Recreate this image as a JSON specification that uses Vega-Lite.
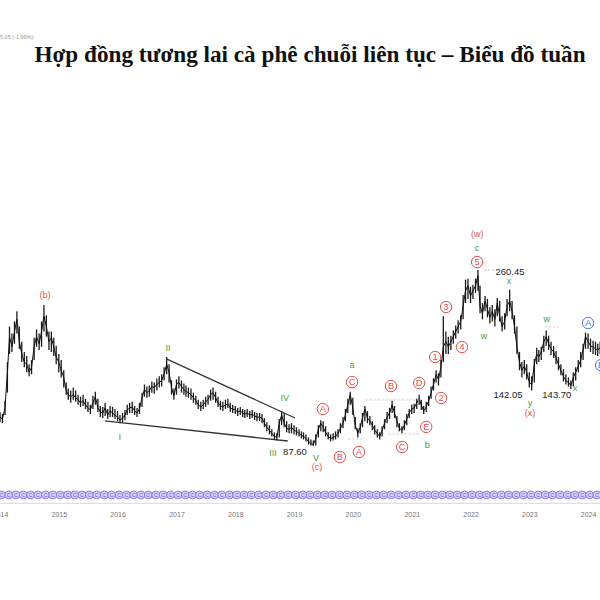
{
  "$schema": "https://vega.github.io/schema/vega-lite/v6.json",
  "width": 600,
  "height": 418,
  "autosize": {"type": "none"},
  "padding": {"left": 0, "top": 85, "right": 0, "bottom": 97},
  "background": "white",
  "config": {"view": {"stroke": null}},
  "title": {
    "text": "Hợp đồng tương lai cà phê chuỗi liên tục – Biểu đồ tuần",
    "font": "Liberation Serif",
    "fontSize": 23.2,
    "fontWeight": "bold",
    "color": "#111111",
    "anchor": "middle",
    "frame": "group",
    "dx": 10,
    "offset": -50,
    "baseline": "alphabetic"
  },
  "datasets": {
    "ohlc": [
      {"d":"2014-01-01","c":116,"h":121,"l":111},{"d":"2014-01-16","c":114,"h":119,"l":110},
      {"d":"2014-02-01","c":125,"h":132,"l":118},{"d":"2014-02-16","c":160,"h":170,"l":140},
      {"d":"2014-03-01","c":195,"h":205,"l":178},{"d":"2014-03-16","c":185,"h":198,"l":180},
      {"d":"2014-04-01","c":200,"h":210,"l":188},{"d":"2014-04-16","c":212,"h":220,"l":198},
      {"d":"2014-05-01","c":190,"h":205,"l":183},{"d":"2014-05-16","c":178,"h":190,"l":170},
      {"d":"2014-06-01","c":170,"h":180,"l":165},{"d":"2014-06-16","c":168,"h":176,"l":160},
      {"d":"2014-07-01","c":160,"h":168,"l":156},{"d":"2014-07-16","c":165,"h":172,"l":158},
      {"d":"2014-08-01","c":185,"h":194,"l":172},{"d":"2014-08-16","c":195,"h":202,"l":185},
      {"d":"2014-09-01","c":188,"h":198,"l":182},{"d":"2014-09-16","c":200,"h":210,"l":185},
      {"d":"2014-10-01","c":215,"h":226,"l":200},{"d":"2014-10-16","c":205,"h":216,"l":195},
      {"d":"2014-11-01","c":190,"h":200,"l":182},{"d":"2014-11-16","c":194,"h":200,"l":180},
      {"d":"2014-12-01","c":185,"h":194,"l":176},{"d":"2014-12-16","c":175,"h":186,"l":168},
      {"d":"2015-01-01","c":170,"h":178,"l":160},{"d":"2015-01-16","c":162,"h":172,"l":155},
      {"d":"2015-02-01","c":155,"h":162,"l":145},{"d":"2015-02-16","c":142,"h":150,"l":138},
      {"d":"2015-03-01","c":138,"h":144,"l":133},{"d":"2015-03-16","c":136,"h":142,"l":130},
      {"d":"2015-04-01","c":138,"h":145,"l":133},{"d":"2015-04-16","c":135,"h":142,"l":131},
      {"d":"2015-05-01","c":133,"h":138,"l":128},{"d":"2015-05-16","c":130,"h":136,"l":126},
      {"d":"2015-06-01","c":132,"h":138,"l":127},{"d":"2015-06-16","c":128,"h":134,"l":124},
      {"d":"2015-07-01","c":125,"h":131,"l":121},{"d":"2015-07-16","c":123,"h":128,"l":119},
      {"d":"2015-08-01","c":130,"h":137,"l":124},{"d":"2015-08-16","c":136,"h":141,"l":128},
      {"d":"2015-09-01","c":125,"h":134,"l":121},{"d":"2015-09-16","c":121,"h":127,"l":116},
      {"d":"2015-10-01","c":120,"h":126,"l":115},{"d":"2015-10-16","c":125,"h":130,"l":117},
      {"d":"2015-11-01","c":118,"h":124,"l":114},{"d":"2015-11-16","c":122,"h":127,"l":116},
      {"d":"2015-12-01","c":120,"h":126,"l":116},{"d":"2015-12-16","c":118,"h":124,"l":114},
      {"d":"2016-01-01","c":116,"h":122,"l":112},{"d":"2016-01-16","c":113,"h":118,"l":110},
      {"d":"2016-02-01","c":115,"h":120,"l":111},{"d":"2016-02-16","c":118,"h":123,"l":113},
      {"d":"2016-03-01","c":123,"h":128,"l":118},{"d":"2016-03-16","c":125,"h":130,"l":120},
      {"d":"2016-04-01","c":126,"h":131,"l":120},{"d":"2016-04-16","c":122,"h":127,"l":118},
      {"d":"2016-05-01","c":120,"h":125,"l":116},{"d":"2016-05-16","c":124,"h":130,"l":119},
      {"d":"2016-06-01","c":135,"h":140,"l":126},{"d":"2016-06-16","c":143,"h":148,"l":136},
      {"d":"2016-07-01","c":140,"h":146,"l":135},{"d":"2016-07-16","c":142,"h":147,"l":136},
      {"d":"2016-08-01","c":146,"h":151,"l":140},{"d":"2016-08-16","c":145,"h":150,"l":139},
      {"d":"2016-09-01","c":148,"h":154,"l":142},{"d":"2016-09-16","c":150,"h":156,"l":145},
      {"d":"2016-10-01","c":152,"h":158,"l":146},{"d":"2016-10-16","c":158,"h":165,"l":152},
      {"d":"2016-11-01","c":168,"h":175,"l":158},{"d":"2016-11-16","c":160,"h":168,"l":150},
      {"d":"2016-12-01","c":145,"h":152,"l":138},{"d":"2016-12-16","c":137,"h":144,"l":133},
      {"d":"2017-01-01","c":148,"h":153,"l":138},{"d":"2017-01-16","c":150,"h":156,"l":144},
      {"d":"2017-02-01","c":146,"h":152,"l":140},{"d":"2017-02-16","c":143,"h":149,"l":138},
      {"d":"2017-03-01","c":141,"h":147,"l":136},{"d":"2017-03-16","c":140,"h":145,"l":135},
      {"d":"2017-04-01","c":138,"h":144,"l":133},{"d":"2017-04-16","c":135,"h":140,"l":130},
      {"d":"2017-05-01","c":132,"h":137,"l":128},{"d":"2017-05-16","c":128,"h":133,"l":124},
      {"d":"2017-06-01","c":126,"h":131,"l":122},{"d":"2017-06-16","c":128,"h":133,"l":124},
      {"d":"2017-07-01","c":131,"h":136,"l":126},{"d":"2017-07-16","c":133,"h":138,"l":128},
      {"d":"2017-08-01","c":138,"h":143,"l":132},{"d":"2017-08-16","c":140,"h":145,"l":133},
      {"d":"2017-09-01","c":135,"h":141,"l":130},{"d":"2017-09-16","c":130,"h":136,"l":126},
      {"d":"2017-10-01","c":127,"h":132,"l":123},{"d":"2017-10-16","c":126,"h":131,"l":122},
      {"d":"2017-11-01","c":128,"h":133,"l":124},{"d":"2017-11-16","c":129,"h":134,"l":125},
      {"d":"2017-12-01","c":125,"h":130,"l":121},{"d":"2017-12-16","c":124,"h":128,"l":120},
      {"d":"2018-01-01","c":123,"h":127,"l":119},{"d":"2018-01-16","c":121,"h":125,"l":117},
      {"d":"2018-02-01","c":122,"h":126,"l":118},{"d":"2018-02-16","c":120,"h":124,"l":116},
      {"d":"2018-03-01","c":119,"h":123,"l":115},{"d":"2018-03-16","c":120,"h":124,"l":116},
      {"d":"2018-04-01","c":118,"h":122,"l":114},{"d":"2018-04-16","c":119,"h":123,"l":115},
      {"d":"2018-05-01","c":117,"h":121,"l":113},{"d":"2018-05-16","c":116,"h":120,"l":112},
      {"d":"2018-06-01","c":116,"h":120,"l":112},{"d":"2018-06-16","c":115,"h":119,"l":110},
      {"d":"2018-07-01","c":110,"h":115,"l":106},{"d":"2018-07-16","c":106,"h":111,"l":102},
      {"d":"2018-08-01","c":103,"h":108,"l":99},{"d":"2018-08-16","c":100,"h":104,"l":97},
      {"d":"2018-09-01","c":97,"h":101,"l":94},{"d":"2018-09-16","c":96,"h":100,"l":93},
      {"d":"2018-10-01","c":110,"h":114,"l":96},{"d":"2018-10-16","c":118,"h":122,"l":108},
      {"d":"2018-11-01","c":110,"h":120,"l":106},{"d":"2018-11-16","c":105,"h":112,"l":101},
      {"d":"2018-12-01","c":104,"h":109,"l":100},{"d":"2018-12-16","c":106,"h":110,"l":100},
      {"d":"2019-01-01","c":103,"h":108,"l":99},{"d":"2019-01-16","c":102,"h":106,"l":98},
      {"d":"2019-02-01","c":100,"h":104,"l":97},{"d":"2019-02-16","c":98,"h":102,"l":95},
      {"d":"2019-03-01","c":97,"h":101,"l":94},{"d":"2019-03-16","c":95,"h":99,"l":92},
      {"d":"2019-04-01","c":92,"h":96,"l":89},{"d":"2019-04-16","c":90,"h":94,"l":88},
      {"d":"2019-05-01","c":89,"h":93,"l":87.6},{"d":"2019-05-16","c":95,"h":99,"l":88},
      {"d":"2019-06-01","c":104,"h":108,"l":96},{"d":"2019-06-16","c":110,"h":113,"l":102},
      {"d":"2019-07-01","c":106,"h":112,"l":101},{"d":"2019-07-16","c":101,"h":107,"l":97},
      {"d":"2019-08-01","c":97,"h":101,"l":94},{"d":"2019-08-16","c":95,"h":99,"l":92},
      {"d":"2019-09-01","c":96,"h":100,"l":93},{"d":"2019-09-16","c":97,"h":102,"l":94},
      {"d":"2019-10-01","c":100,"h":104,"l":96},{"d":"2019-10-16","c":105,"h":110,"l":100},
      {"d":"2019-11-01","c":110,"h":116,"l":105},{"d":"2019-11-16","c":118,"h":124,"l":112},
      {"d":"2019-12-01","c":128,"h":134,"l":120},{"d":"2019-12-16","c":138,"h":141,"l":128},
      {"d":"2020-01-01","c":125,"h":135,"l":118},{"d":"2020-01-16","c":108,"h":116,"l":104},
      {"d":"2020-02-01","c":100,"h":105,"l":96},{"d":"2020-02-16","c":106,"h":110,"l":100},
      {"d":"2020-03-01","c":115,"h":120,"l":106},{"d":"2020-03-16","c":124,"h":127,"l":112},
      {"d":"2020-04-01","c":115,"h":122,"l":110},{"d":"2020-04-16","c":112,"h":117,"l":108},
      {"d":"2020-05-01","c":108,"h":112,"l":103},{"d":"2020-05-16","c":103,"h":108,"l":99},
      {"d":"2020-06-01","c":100,"h":104,"l":96},{"d":"2020-06-16","c":97,"h":101,"l":94},
      {"d":"2020-07-01","c":103,"h":107,"l":97},{"d":"2020-07-16","c":110,"h":114,"l":104},
      {"d":"2020-08-01","c":116,"h":121,"l":110},{"d":"2020-08-16","c":120,"h":125,"l":114},
      {"d":"2020-09-01","c":128,"h":132,"l":120},{"d":"2020-09-16","c":120,"h":127,"l":115},
      {"d":"2020-10-01","c":112,"h":117,"l":106},{"d":"2020-10-16","c":105,"h":110,"l":102},
      {"d":"2020-11-01","c":103,"h":107,"l":100},{"d":"2020-11-16","c":108,"h":113,"l":103},
      {"d":"2020-12-01","c":114,"h":119,"l":108},{"d":"2020-12-16","c":120,"h":124,"l":115},
      {"d":"2021-01-01","c":124,"h":128,"l":119},{"d":"2021-01-16","c":125,"h":129,"l":120},
      {"d":"2021-02-01","c":130,"h":134,"l":124},{"d":"2021-02-16","c":134,"h":138,"l":128},
      {"d":"2021-03-01","c":128,"h":133,"l":123},{"d":"2021-03-16","c":122,"h":127,"l":119},
      {"d":"2021-04-01","c":126,"h":131,"l":121},{"d":"2021-04-16","c":132,"h":137,"l":127},
      {"d":"2021-05-01","c":140,"h":146,"l":134},{"d":"2021-05-16","c":148,"h":154,"l":142},
      {"d":"2021-06-01","c":158,"h":162,"l":150},{"d":"2021-06-16","c":153,"h":159,"l":147},
      {"d":"2021-07-01","c":165,"h":172,"l":155},{"d":"2021-07-16","c":185,"h":215,"l":170},
      {"d":"2021-08-01","c":190,"h":200,"l":178},{"d":"2021-08-16","c":185,"h":195,"l":178},
      {"d":"2021-09-01","c":190,"h":196,"l":182},{"d":"2021-09-16","c":195,"h":201,"l":188},
      {"d":"2021-10-01","c":200,"h":206,"l":193},{"d":"2021-10-16","c":205,"h":211,"l":198},
      {"d":"2021-11-01","c":210,"h":216,"l":202},{"d":"2021-11-16","c":225,"h":236,"l":212},
      {"d":"2021-12-01","c":240,"h":251,"l":228},{"d":"2021-12-16","c":245,"h":252,"l":232},
      {"d":"2022-01-01","c":235,"h":244,"l":228},{"d":"2022-01-16","c":240,"h":246,"l":232},
      {"d":"2022-02-01","c":245,"h":252,"l":238},{"d":"2022-02-16","c":255,"h":260.45,"l":240},
      {"d":"2022-03-01","c":225,"h":245,"l":218},{"d":"2022-03-16","c":218,"h":228,"l":212},
      {"d":"2022-04-01","c":230,"h":235,"l":220},{"d":"2022-04-16","c":222,"h":232,"l":214},
      {"d":"2022-05-01","c":214,"h":224,"l":208},{"d":"2022-05-16","c":220,"h":226,"l":210},
      {"d":"2022-06-01","c":212,"h":222,"l":205},{"d":"2022-06-16","c":228,"h":233,"l":215},
      {"d":"2022-07-01","c":215,"h":230,"l":210},{"d":"2022-07-16","c":205,"h":215,"l":200},
      {"d":"2022-08-01","c":210,"h":218,"l":202},{"d":"2022-08-16","c":225,"h":232,"l":215},
      {"d":"2022-09-01","c":230,"h":241,"l":220},{"d":"2022-09-16","c":220,"h":230,"l":212},
      {"d":"2022-10-01","c":205,"h":216,"l":198},{"d":"2022-10-16","c":185,"h":205,"l":178},
      {"d":"2022-11-01","c":170,"h":180,"l":162},{"d":"2022-11-16","c":162,"h":170,"l":155},
      {"d":"2022-12-01","c":166,"h":172,"l":158},{"d":"2022-12-16","c":160,"h":168,"l":153},
      {"d":"2023-01-01","c":150,"h":160,"l":145},{"d":"2023-01-16","c":148,"h":156,"l":142.05},
      {"d":"2023-02-01","c":168,"h":173,"l":150},{"d":"2023-02-16","c":178,"h":184,"l":168},
      {"d":"2023-03-01","c":175,"h":182,"l":170},{"d":"2023-03-16","c":180,"h":185,"l":172},
      {"d":"2023-04-01","c":190,"h":196,"l":180},{"d":"2023-04-16","c":195,"h":201,"l":186},
      {"d":"2023-05-01","c":188,"h":196,"l":182},{"d":"2023-05-16","c":183,"h":190,"l":177},
      {"d":"2023-06-01","c":180,"h":186,"l":174},{"d":"2023-06-16","c":174,"h":181,"l":168},
      {"d":"2023-07-01","c":168,"h":175,"l":162},{"d":"2023-07-16","c":162,"h":168,"l":157},
      {"d":"2023-08-01","c":156,"h":163,"l":151},{"d":"2023-08-16","c":152,"h":158,"l":148},
      {"d":"2023-09-01","c":150,"h":155,"l":146},{"d":"2023-09-16","c":147,"h":152,"l":143.7},
      {"d":"2023-10-01","c":155,"h":160,"l":146},{"d":"2023-10-16","c":160,"h":165,"l":152},
      {"d":"2023-11-01","c":166,"h":172,"l":160},{"d":"2023-11-16","c":172,"h":180,"l":165},
      {"d":"2023-12-01","c":182,"h":188,"l":172},{"d":"2023-12-16","c":195,"h":199,"l":183},
      {"d":"2024-01-01","c":190,"h":198,"l":183},{"d":"2024-01-16","c":186,"h":193,"l":180},
      {"d":"2024-02-01","c":185,"h":191,"l":178},{"d":"2024-02-16","c":183,"h":190,"l":177},
      {"d":"2024-03-01","c":182,"h":188,"l":176},{"d":"2024-03-16","c":184,"h":190,"l":178}
    ],
    "labels": [
      {"d":"2014-10-07","p":235.9,"t":"(b)","k":"r"},
      {"d":"2016-01-15","p":96.4,"t":"I","k":"g"},
      {"d":"2016-11-09","p":183.8,"t":"II","k":"g"},
      {"d":"2018-08-23","p":80.7,"t":"III","k":"g"},
      {"d":"2018-11-05","p":134.7,"t":"IV","k":"g"},
      {"d":"2019-05-17","p":75.8,"t":"V","k":"g"},
      {"d":"2019-01-07","p":81.7,"t":"87.60","k":"n"},
      {"d":"2019-05-23","p":67.0,"t":"(c)","k":"r"},
      {"d":"2019-06-29","p":123.9,"t":"A","k":"rc"},
      {"d":"2019-10-13","p":76.8,"t":"B","k":"rc"},
      {"d":"2019-12-27","p":167.1,"t":"a","k":"g"},
      {"d":"2019-12-27","p":150.4,"t":"C","k":"rc"},
      {"d":"2020-02-08","p":81.7,"t":"A","k":"rc"},
      {"d":"2020-08-25","p":146.5,"t":"B","k":"rc"},
      {"d":"2020-11-02","p":86.6,"t":"C","k":"rc"},
      {"d":"2021-02-16","p":149.5,"t":"D","k":"rc"},
      {"d":"2021-04-01","p":106.3,"t":"E","k":"rc"},
      {"d":"2021-04-07","p":88.6,"t":"b","k":"g"},
      {"d":"2021-05-26","p":175.0,"t":"1","k":"rc"},
      {"d":"2021-07-02","p":134.7,"t":"2","k":"rc"},
      {"d":"2021-08-02","p":224.1,"t":"3","k":"rc"},
      {"d":"2021-11-09","p":184.8,"t":"4","k":"rc"},
      {"d":"2022-02-11","p":295.8,"t":"(w)","k":"r"},
      {"d":"2022-02-11","p":282.0,"t":"c","k":"g"},
      {"d":"2022-02-11","p":268.3,"t":"5","k":"rc"},
      {"d":"2022-09-03","p":258.5,"t":"260.45","k":"n"},
      {"d":"2022-08-28","p":249.6,"t":"x","k":"g"},
      {"d":"2022-03-26","p":195.6,"t":"w","k":"g"},
      {"d":"2022-08-22","p":137.7,"t":"142.05","k":"n"},
      {"d":"2023-01-06","p":130.0,"t":"y","k":"g"},
      {"d":"2023-01-06","p":120.0,"t":"(x)","k":"r"},
      {"d":"2023-04-20","p":212.3,"t":"w","k":"g"},
      {"d":"2023-06-21","p":137.7,"t":"143.70","k":"n"},
      {"d":"2023-10-12","p":144.6,"t":"x","k":"g"},
      {"d":"2024-01-01","p":208.4,"t":"A","k":"bc"},
      {"d":"2024-03-22","p":167.0,"t":"B","k":"bc"}
    ],
    "header": [
      {"d":"2014-01-01","p":489,"t":"5,05 (-1,99%)"}
    ],
    "trend": [
      {"d":"2016-11-03","p":173.0,"d2":"2019-01-07","p2":115.1},
      {"d":"2015-10-14","p":112.2,"d2":"2018-11-23","p2":92.5}
    ],
    "levels": [
      {"d":"2022-03-26","p":260.45,"d2":"2022-06-20","p2":260.45},
      {"d":"2023-04-10","p":204.5,"d2":"2023-07-01","p2":204.5},
      {"d":"2020-03-20","p":132.8,"d2":"2021-02-20","p2":132.8},
      {"d":"2020-08-10","p":99.4,"d2":"2021-02-20","p2":99.4},
      {"d":"2019-12-05","p":94.5,"d2":"2020-03-01","p2":94.5}
    ],
    "rolls": [
      {"d":"2014-01-10"},{"d":"2014-02-25"},{"d":"2014-04-10"},{"d":"2014-05-25"},{"d":"2014-07-10"},{"d":"2014-08-25"},{"d":"2014-10-10"},{"d":"2014-11-25"},
      {"d":"2015-01-10"},{"d":"2015-02-25"},{"d":"2015-04-10"},{"d":"2015-05-25"},{"d":"2015-07-10"},{"d":"2015-08-25"},{"d":"2015-10-10"},{"d":"2015-11-25"},
      {"d":"2016-01-10"},{"d":"2016-02-25"},{"d":"2016-04-10"},{"d":"2016-05-25"},{"d":"2016-07-10"},{"d":"2016-08-25"},{"d":"2016-10-10"},{"d":"2016-11-25"},
      {"d":"2017-01-10"},{"d":"2017-02-25"},{"d":"2017-04-10"},{"d":"2017-05-25"},{"d":"2017-07-10"},{"d":"2017-08-25"},{"d":"2017-10-10"},{"d":"2017-11-25"},
      {"d":"2018-01-10"},{"d":"2018-02-25"},{"d":"2018-04-10"},{"d":"2018-05-25"},{"d":"2018-07-10"},{"d":"2018-08-25"},{"d":"2018-10-10"},{"d":"2018-11-25"},
      {"d":"2019-01-10"},{"d":"2019-02-25"},{"d":"2019-04-10"},{"d":"2019-05-25"},{"d":"2019-07-10"},{"d":"2019-08-25"},{"d":"2019-10-10"},{"d":"2019-11-25"},
      {"d":"2020-01-10"},{"d":"2020-02-25"},{"d":"2020-04-10"},{"d":"2020-05-25"},{"d":"2020-07-10"},{"d":"2020-08-25"},{"d":"2020-10-10"},{"d":"2020-11-25"},
      {"d":"2021-01-10"},{"d":"2021-02-25"},{"d":"2021-04-10"},{"d":"2021-05-25"},{"d":"2021-07-10"},{"d":"2021-08-25"},{"d":"2021-10-10"},{"d":"2021-11-25"},
      {"d":"2022-01-10"},{"d":"2022-02-25"},{"d":"2022-04-10"},{"d":"2022-05-25"},{"d":"2022-07-10"},{"d":"2022-08-25"},{"d":"2022-10-10"},{"d":"2022-11-25"},
      {"d":"2023-01-10"},{"d":"2023-02-25"},{"d":"2023-04-10"},{"d":"2023-05-25"},{"d":"2023-07-10"},{"d":"2023-08-25"},{"d":"2023-10-10"},{"d":"2023-11-25"},
      {"d":"2024-01-10"},{"d":"2024-02-25"}
    ]
  },
  "layer": [
    {
      "data": {"name": "ohlc"},
      "mark": {"type": "rule", "color": "#1a1a1a", "strokeWidth": 1.3, "clip": true},
      "encoding": {
        "x": {"field": "d", "type": "temporal",
              "scale": {"domain": [{"year": 2014, "month": 1, "date": 1}, {"year": 2024, "month": 3, "date": 15}]},
              "axis": {"values": [{"year":2014,"month":1,"date":1},{"year":2015,"month":1,"date":1},{"year":2016,"month":1,"date":1},{"year":2017,"month":1,"date":1},{"year":2018,"month":1,"date":1},{"year":2019,"month":1,"date":1},{"year":2020,"month":1,"date":1},{"year":2021,"month":1,"date":1},{"year":2022,"month":1,"date":1},{"year":2023,"month":1,"date":1},{"year":2024,"month":1,"date":1}],
                       "format": "%Y", "title": null, "grid": false, "ticks": false,
                       "domainColor": "#dddddd", "labelColor": "#777777", "labelFontSize": 7,
                       "labelFont": "Liberation Sans", "labelPadding": 7, "labelFlush": false, "labelOverlap": false}},
        "y": {"field": "l", "type": "quantitative", "scale": {"domain": [31.6, 442.2]}, "axis": null},
        "y2": {"field": "h"}
      }
    },
    {
      "data": {"name": "ohlc"},
      "mark": {"type": "line", "color": "#111111", "strokeWidth": 1, "clip": true},
      "encoding": {
        "x": {"field": "d", "type": "temporal"},
        "y": {"field": "c", "type": "quantitative", "scale": {"domain": [31.6, 442.2]}}
      }
    },
    {
      "data": {"name": "trend"},
      "mark": {"type": "rule", "color": "#333333", "strokeWidth": 1.3},
      "encoding": {
        "x": {"field": "d", "type": "temporal"},
        "x2": {"field": "d2"},
        "y": {"field": "p", "type": "quantitative", "scale": {"domain": [31.6, 442.2]}},
        "y2": {"field": "p2"}
      }
    },
    {
      "data": {"name": "levels"},
      "mark": {"type": "rule", "color": "#c4c4c4", "strokeWidth": 1, "strokeDash": [2, 2]},
      "encoding": {
        "x": {"field": "d", "type": "temporal"},
        "x2": {"field": "d2"},
        "y": {"field": "p", "type": "quantitative", "scale": {"domain": [31.6, 442.2]}},
        "y2": {"field": "p2"}
      }
    },
    {
      "data": {"name": "rolls"},
      "mark": {"type": "point", "shape": "circle", "size": 62, "fill": "#d8cffc", "stroke": "#8b7ae8", "strokeWidth": 1, "opacity": 1},
      "encoding": {
        "x": {"field": "d", "type": "temporal"},
        "y": {"datum": 39.5, "type": "quantitative", "scale": {"domain": [31.6, 442.2]}}
      }
    },
    {
      "data": {"name": "rolls"},
      "mark": {"type": "text", "text": "C", "fontSize": 5.5, "color": "#6f5fd6", "font": "Liberation Sans", "baseline": "middle", "align": "center"},
      "encoding": {
        "x": {"field": "d", "type": "temporal"},
        "y": {"datum": 39.5, "type": "quantitative", "scale": {"domain": [31.6, 442.2]}}
      }
    },
    {
      "data": {"name": "header"},
      "mark": {"type": "text", "fontSize": 5.5, "color": "#9a9a9a", "font": "Liberation Sans", "baseline": "middle", "align": "left", "clip": false},
      "encoding": {
        "x": {"field": "d", "type": "temporal"},
        "y": {"field": "p", "type": "quantitative", "scale": {"domain": [31.6, 442.2]}},
        "text": {"field": "t"}
      }
    },
    {
      "data": {"name": "labels"},
      "transform": [{"filter": "datum.k == 'rc' || datum.k == 'bc'"}],
      "mark": {"type": "point", "shape": "circle", "size": 130, "fill": "white", "strokeWidth": 1, "opacity": 1, "clip": false},
      "encoding": {
        "x": {"field": "d", "type": "temporal"},
        "y": {"field": "p", "type": "quantitative", "scale": {"domain": [31.6, 442.2]}},
        "stroke": {"field": "k", "type": "nominal", "scale": {"domain": ["rc", "bc"], "range": ["#e05252", "#4f7be3"]}, "legend": null}
      }
    },
    {
      "data": {"name": "labels"},
      "mark": {"type": "text", "font": "Liberation Sans", "baseline": "middle", "align": "center"},
      "encoding": {
        "x": {"field": "d", "type": "temporal"},
        "y": {"field": "p", "type": "quantitative", "scale": {"domain": [31.6, 442.2]}},
        "text": {"field": "t"},
        "color": {"field": "k", "type": "nominal", "scale": {"domain": ["r", "g", "rc", "bc", "n"], "range": ["#e05252", "#43a047", "#e05252", "#4f7be3", "#222222"]}, "legend": null},
        "size": {"field": "k", "type": "ordinal", "scale": {"domain": ["r", "g", "rc", "bc", "n"], "range": [9, 9.5, 8, 8, 8.5]}, "legend": null}
      }
    }
  ]
}
